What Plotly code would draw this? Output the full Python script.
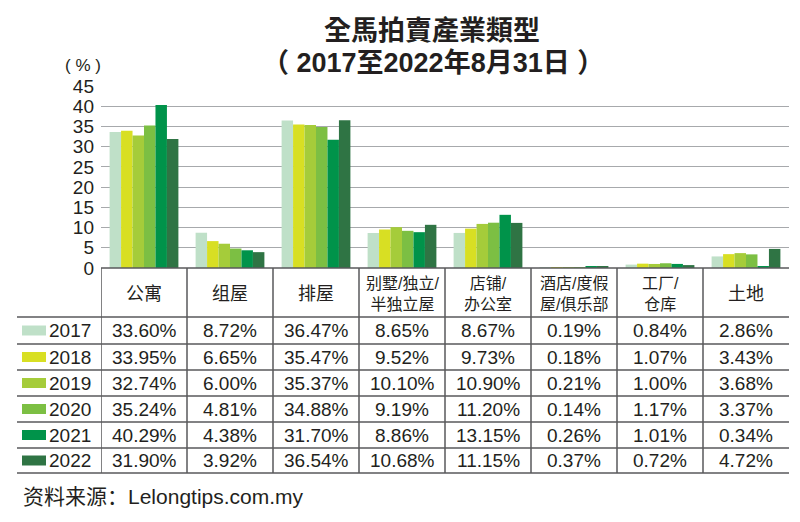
import plotly.graph_objects as go

categories = ["公寓", "组屋", "排屋", "别墅/独立/<br>半独立屋", "店铺/<br>办公室",
              "酒店/度假<br>屋/俱乐部", "工厂/<br>仓库", "土地"]
years = ["2017", "2018", "2019", "2020", "2021", "2022"]
values = {
    "2017": [33.60, 8.72, 36.47, 8.65, 8.67, 0.19, 0.84, 2.86],
    "2018": [33.95, 6.65, 35.47, 9.52, 9.73, 0.18, 1.07, 3.43],
    "2019": [32.74, 6.00, 35.37, 10.10, 10.90, 0.21, 1.00, 3.68],
    "2020": [35.24, 4.81, 34.88, 9.19, 11.20, 0.14, 1.17, 3.37],
    "2021": [40.29, 4.38, 31.70, 8.86, 13.15, 0.26, 1.01, 0.34],
    "2022": [31.90, 3.92, 36.54, 10.68, 11.15, 0.37, 0.72, 4.72],
}
colors = ["#bfe0c8", "#d8df23", "#a5cc3a", "#7cbf43", "#00934a", "#2f7444"]
y_ticks = [0, 5, 10, 15, 20, 25, 30, 35, 40, 45]

FONT = "Liberation Sans, Arial, Noto Sans CJK SC, sans-serif"
TXT = "#231f20"
LINE = "#58595b"

OFF = 8  # page body margin
W, H = 800 - 2 * OFF, 522 - 2 * OFF
L, R, T, B = 101 - OFF, 800 - 789 - OFF, 86 - OFF, 522 - 473 - OFF
PH = H - T - B
PW = W - L - R

def py(px):
    return (H - B - (px - OFF)) / PH

def pxr(px):
    return ((px - OFF) - L) / PW

fig = go.Figure()
xs = list(range(len(categories)))
for yr, c in zip(years, colors):
    fig.add_trace(go.Bar(x=xs, y=values[yr], name=yr, marker=dict(color=c, line=dict(width=0)),
                         showlegend=False))

bar_bottom_px = 268
fig.update_layout(
    width=W, height=H,
    margin=dict(l=L, r=R, t=T, b=B),
    paper_bgcolor="white", plot_bgcolor="white",
    barmode="group", bargap=0.2, bargroupgap=0,
    font=dict(family=FONT, color=TXT, size=17),
    xaxis=dict(range=[-0.5, len(categories) - 0.5], showticklabels=False, showgrid=False,
               zeroline=False, showline=False, ticks="", fixedrange=True),
    yaxis=dict(domain=[py(bar_bottom_px), 1], range=[0, 45], tickvals=y_ticks,
               showgrid=True, gridcolor="#a7a9ac", gridwidth=1, zeroline=False,
               showline=False, ticks="", ticklabelstandoff=6,
               tickfont=dict(size=19, family=FONT, color=TXT)),
)

anns = []
# titles
anns.append(dict(text="<b>全馬拍賣產業類型</b>", x=pxr(432), y=py(28), xref="paper", yref="paper",
                 showarrow=False, xanchor="center", yanchor="middle",
                 font=dict(size=27, family="Noto Sans CJK TC, sans-serif", color=TXT)))
anns.append(dict(text="<b>（ 2017至2022年8月31日 ）</b>", x=pxr(433), y=py(63), xref="paper", yref="paper",
                 showarrow=False, xanchor="center", yanchor="middle",
                 font=dict(size=27, family="Liberation Sans, Noto Sans CJK TC, sans-serif", color=TXT)))
anns.append(dict(text="( % )", x=pxr(83), y=py(66), xref="paper", yref="paper",
                 showarrow=False, xanchor="center", yanchor="middle",
                 font=dict(size=17, family=FONT, color=TXT)))
anns.append(dict(text="资料来源：Lelongtips.com.my", x=pxr(21), y=py(496), xref="paper", yref="paper",
                 showarrow=False, xanchor="left", yanchor="middle",
                 font=dict(size=21, family=FONT, color=TXT)))

# header row
hdr_top, hdr_bot = 268, 317
row_lines = [317, 344, 370, 396, 422, 448, 473]
for i, cat in enumerate(categories):
    two = "<br>" in cat
    anns.append(dict(text=cat, x=i, y=py((hdr_top + hdr_bot) / 2 + 1), xref="x", yref="paper",
                     showarrow=False, xanchor="center", yanchor="middle",
                     font=dict(size=16 if two else 18,
                               family="Liberation Sans, Noto Sans CJK SC, sans-serif", color=TXT)))

shapes = []
for r, (yr, c) in enumerate(zip(years, colors)):
    yc = (row_lines[r] + row_lines[r + 1]) / 2
    anns.append(dict(text=yr, x=pxr(93), y=py(yc), xref="paper", yref="paper",
                     showarrow=False, xanchor="right", yanchor="middle",
                     font=dict(size=19, family=FONT, color=TXT)))
    shapes.append(dict(type="rect", xref="paper", yref="paper", x0=pxr(22), x1=pxr(46),
                       y0=py(yc - 5), y1=py(yc + 5), fillcolor=c, line=dict(width=0)))
    for i, v in enumerate(values[yr]):
        anns.append(dict(text=f"{v:.2f}%", x=i, y=py(yc), xref="x", yref="paper",
                         showarrow=False, xanchor="center", yanchor="middle",
                         font=dict(size=19, family=FONT, color=TXT)))

# table lines
shapes.append(dict(type="line", xref="paper", yref="paper", x0=0, x1=1,
                   y0=py(hdr_top), y1=py(hdr_top), line=dict(color=LINE, width=1.5)))
for yl in row_lines:
    shapes.append(dict(type="line", xref="paper", yref="paper", x0=pxr(17), x1=1,
                       y0=py(yl), y1=py(yl), line=dict(color=LINE, width=1.5)))
for i in range(len(categories)):
    shapes.append(dict(type="line", xref="x", yref="paper", x0=i - 0.5, x1=i - 0.5,
                       y0=py(hdr_top), y1=py(473), line=dict(color=LINE, width=1.5)))

fig.update_layout(annotations=anns, shapes=shapes)
fig.write_html("out.html")
